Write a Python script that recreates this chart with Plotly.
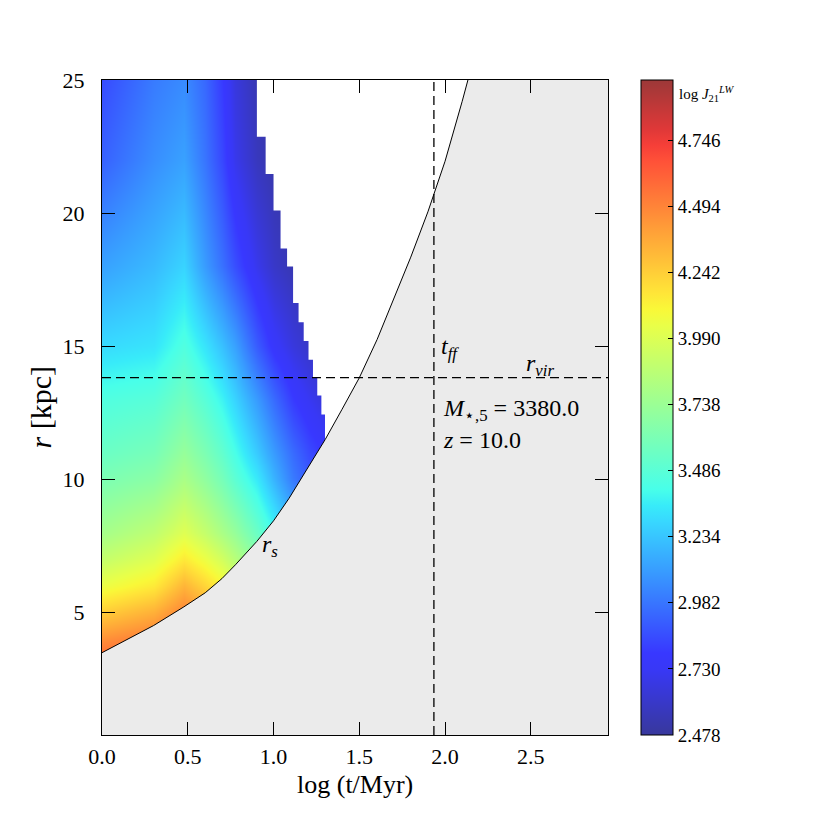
import plotly.graph_objects as go

# ---------------- data ----------------
LOG_T_GRID = [0.0, 0.301, 0.477, 0.602, 0.699, 0.778, 0.903, 1.0, 1.114, 1.204, 1.301]
R_GRID = [3.5, 4, 5, 6, 7, 8, 10, 11, 13, 15, 18, 22, 25]
LOGJ = [
    [4.55, 4.62, 4.75, 4.65, 4.55, 4.42, 4.22, 4.05, 3.85, 3.70, 3.60],
    [4.45, 4.53, 4.66, 4.56, 4.46, 4.33, 4.13, 3.96, 3.77, 3.62, 3.52],
    [4.25, 4.35, 4.50, 4.40, 4.30, 4.17, 3.97, 3.80, 3.62, 3.48, 3.38],
    [4.05, 4.15, 4.33, 4.22, 4.12, 4.00, 3.82, 3.65, 3.48, 3.35, 3.25],
    [3.90, 4.00, 4.15, 4.05, 3.95, 3.85, 3.68, 3.52, 3.35, 3.22, 3.12],
    [3.78, 3.88, 4.00, 3.90, 3.80, 3.72, 3.55, 3.40, 3.22, 3.10, 3.00],
    [3.62, 3.68, 3.80, 3.70, 3.60, 3.50, 3.35, 3.18, 3.00, 2.90, 2.82],
    [3.55, 3.60, 3.72, 3.62, 3.52, 3.42, 3.25, 3.10, 2.95, 2.85, 2.78],
    [3.45, 3.48, 3.58, 3.48, 3.38, 3.28, 3.10, 2.95, 2.80, 2.72, 2.65],
    [3.30, 3.33, 3.45, 3.33, 3.22, 3.12, 2.90, 2.76, 2.66, 2.60, 2.56],
    [3.12, 3.20, 3.28, 3.10, 2.97, 2.86, 2.70, 2.60, 2.54, 2.50, 2.49],
    [2.92, 3.06, 3.12, 2.98, 2.84, 2.70, 2.57, 2.52, 2.49, 2.48, 2.48],
    [2.85, 3.00, 3.05, 2.94, 2.80, 2.66, 2.54, 2.50, 2.48, 2.48, 2.48],
]

# outer radius reached by the data at each late time (log t)
STEP_LOG_T = [0.903, 0.954, 1.0, 1.041, 1.079, 1.114, 1.146, 1.176, 1.204, 1.230, 1.255, 1.279, 1.301]
STEP_R_MAX = [25.0, 22.87, 21.47, 20.10, 18.67, 18.00, 16.63, 15.91, 15.20, 14.50, 13.85, 13.16, 12.44]

# shock radius r_s(t)
RS_LOG_T = [0.0, 0.301, 0.477, 0.602, 0.699, 0.778, 0.903, 1.0, 1.091, 1.176, 1.301,
            1.398, 1.5, 1.604, 1.7, 1.8, 1.9, 2.0, 2.1, 2.2]
RS_R = [3.50, 4.52, 5.22, 5.75, 6.28, 6.80, 7.68, 8.45, 9.30, 10.20, 11.50,
        12.62, 13.82, 15.26, 16.75, 18.35, 20.05, 21.95, 24.20, 26.60]

R_VIR = 13.83
LOG_T_FF = 1.935
CBAR_TICKS = [2.478, 2.730, 2.982, 3.234, 3.486, 3.738, 3.990, 4.242, 4.494, 4.746]
Z_MIN, Z_MAX = 2.478, 4.975

X_RANGE = [0.0, 2.95]
Y_RANGE = [0.41, 25.0]

# ---------------- styling helpers ----------------
FONT = "Liberation Serif"
ALPHA = 0.78
W = H = 809          # page body adds an 8 px margin
L, T, R, B = 94, 72, 209, 82
PLOT_W = W - L - R
PLOT_H = H - T - B


def _seg(points, f):
    for (x0, y0), (x1, y1) in zip(points[:-1], points[1:]):
        if x0 <= f <= x1:
            return y0 + (y1 - y0) * (f - x0) / (x1 - x0) if x1 > x0 else y1
    return points[-1][1]


JET_R = [(0, 0), (0.35, 0), (0.66, 1), (0.89, 1), (1, 0.5)]
JET_G = [(0, 0), (0.125, 0), (0.375, 1), (0.64, 1), (0.91, 0), (1, 0)]
JET_B = [(0, 0.5), (0.11, 1), (0.34, 1), (0.65, 0), (1, 0)]


def jet_faded(n=41):
    scale = []
    for i in range(n):
        f = i / (n - 1)
        rgb = [_seg(s, f) for s in (JET_R, JET_G, JET_B)]
        c = [round(255 * (ALPHA * v + (1 - ALPHA))) for v in rgb]
        scale.append([f, f"rgb({c[0]},{c[1]},{c[2]})"])
    return scale


def px_x(page_x):   # page pixel -> paper fraction
    return (page_x - 8 - L) / PLOT_W


def px_y(page_y):
    return (H - B - (page_y - 8)) / PLOT_H


fig = go.Figure()

fig.add_trace(go.Contour(
    x=LOG_T_GRID, y=R_GRID, z=LOGJ,
    colorscale=jet_faded(), zmin=Z_MIN, zmax=Z_MAX, zauto=False,
    contours=dict(coloring="heatmap", showlines=False, start=Z_MIN, end=Z_MAX, size=0.025),
    line=dict(width=0),
    colorbar=dict(
        x=px_x(641), xanchor="left", xpad=0,
        y=0.5, yanchor="middle", ypad=0, len=1, lenmode="fraction",
        thickness=32, thicknessmode="pixels",
        outlinewidth=1, outlinecolor="black",
        tickvals=CBAR_TICKS, ticktext=[f"{v:.3f}" for v in CBAR_TICKS],
        ticks="inside", ticklen=5, tickcolor="black", tickwidth=1,
        tickfont=dict(family=FONT, size=19, color="black"),
    ),
    hoverinfo="skip",
))

# white mask above the outer edge of the data
TOP_EXT = Y_RANGE[1] + 1
wx, wy = [STEP_LOG_T[0]], [TOP_EXT]
for i in range(1, len(STEP_LOG_T)):
    wx += [STEP_LOG_T[i - 1], STEP_LOG_T[i]]
    wy += [STEP_R_MAX[i], STEP_R_MAX[i]]
wx += [STEP_LOG_T[-1], X_RANGE[1] + 0.1, X_RANGE[1] + 0.1]
wy += [0, 0, TOP_EXT]
fig.add_trace(go.Scatter(x=wx, y=wy, fill="toself", fillcolor="white",
                         mode="lines", line=dict(width=0), hoverinfo="skip", showlegend=False))

# grey region inside the shock radius
gx = list(RS_LOG_T) + [X_RANGE[1] + 0.1, X_RANGE[1] + 0.1, RS_LOG_T[0]]
gy = list(RS_R) + [RS_R[-1], 0, 0]
fig.add_trace(go.Scatter(x=gx, y=gy, fill="toself", fillcolor="#ebebeb",
                         mode="lines", line=dict(width=0), hoverinfo="skip", showlegend=False))

# r_s curve
fig.add_trace(go.Scatter(x=RS_LOG_T, y=RS_R, mode="lines",
                         line=dict(color="black", width=1), hoverinfo="skip", showlegend=False))

# dashed reference lines
fig.add_trace(go.Scatter(x=X_RANGE, y=[R_VIR, R_VIR], mode="lines",
                         line=dict(color="black", width=1.3, dash="9px,5px"),
                         hoverinfo="skip", showlegend=False))
fig.add_trace(go.Scatter(x=[LOG_T_FF, LOG_T_FF], y=Y_RANGE, mode="lines",
                         line=dict(color="black", width=1.3, dash="9px,5px"),
                         hoverinfo="skip", showlegend=False))

ann_font = dict(family=FONT, size=24, color="black")
annotations = [
    dict(x=1.965, y=14.95, text="<i>t</i><sub><i>ff</i></sub>", xanchor="left", yanchor="middle"),
    dict(x=2.46, y=14.3, text="<i>r</i><sub><i>vir</i></sub>", xanchor="left", yanchor="middle"),
    dict(x=1.975, y=12.6, text="<i>M</i><sub>⋆,5</sub> = 3380.0", xanchor="left", yanchor="middle"),
    dict(x=1.975, y=11.5, text="<i>z</i> = 10.0", xanchor="left", yanchor="middle"),
    dict(x=0.92, y=7.5, text="<i>r</i><sub><i>s</i></sub>", xanchor="left", yanchor="middle"),
]
for a in annotations:
    a.update(xref="x", yref="y", showarrow=False, font=ann_font)

annotations += [
    dict(x=0.5, y=px_y(784), xref="paper", yref="paper", text="log (t/Myr)",
         showarrow=False, xanchor="center", yanchor="middle",
         font=dict(family=FONT, size=26, color="black")),
    dict(x=px_x(40), y=0.5, xref="paper", yref="paper", text="<i>r</i> [kpc]",
         showarrow=False, xanchor="center", yanchor="middle", textangle=-90,
         font=dict(family=FONT, size=30, color="black")),
    dict(x=px_x(677), y=px_y(94), xref="paper", yref="paper",
         text="log <i>J</i><sub>21</sub><sup><i>LW</i></sup>",
         showarrow=False, xanchor="left", yanchor="middle",
         font=dict(family=FONT, size=15, color="black")),
]

axis_common = dict(
    showline=True, linecolor="black", linewidth=1.3, mirror="ticks",
    ticks="inside", ticklen=13, tickwidth=1.3, tickcolor="black",
    showgrid=False, zeroline=False,
    tickfont=dict(family=FONT, size=22, color="black"),
)

fig.update_layout(
    width=W, height=H,
    margin=dict(l=L, r=R, t=T, b=B),
    paper_bgcolor="white", plot_bgcolor="white",
    showlegend=False,
    xaxis=dict(range=X_RANGE, tickvals=[0, 0.5, 1.0, 1.5, 2.0, 2.5], tickformat=".1f",
               ticklabelstandoff=1, **axis_common),
    yaxis=dict(range=Y_RANGE, tickvals=[5, 10, 15, 20, 25],
               ticklabelstandoff=12, **axis_common),
    annotations=annotations,
)

fig.write_html("out.html")
